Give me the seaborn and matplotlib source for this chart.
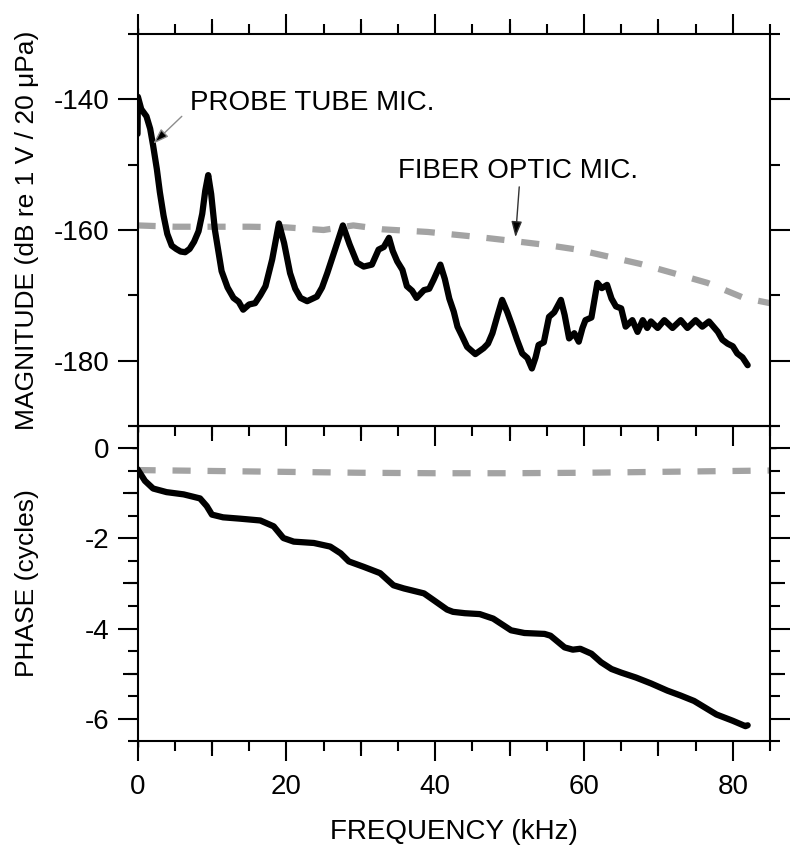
import matplotlib
matplotlib.use("Agg")
import matplotlib.pyplot as plt
from matplotlib.ticker import MultipleLocator, NullFormatter
import numpy as np
import pandas as pd
import seaborn as sns

# ---------------- data ----------------
mag_freq = [0.0, 0.05, 0.5, 1.2, 1.7, 2.1, 2.6, 3.0, 3.5, 4.0,
            4.6, 5.2, 5.8, 6.4, 7.0, 7.6, 8.2, 8.7, 9.1, 9.5,
            9.9, 10.4, 11.3, 12.1, 12.9, 13.6, 14.2, 15.0, 15.8, 16.5,
            17.2, 18.1, 19.0, 19.7, 20.5, 21.2, 21.9, 22.8, 24.1, 24.8,
            25.5, 26.6, 27.6, 28.5, 29.5, 30.4, 31.5, 32.4, 33.1, 33.8,
            34.3, 34.9, 35.6, 36.2, 36.9, 37.5, 38.5, 39.2, 39.8, 40.7,
            41.3, 41.9, 42.5, 43.0, 43.6, 44.3, 45.4, 46.5, 47.1, 47.7,
            48.4, 49.0, 49.7, 50.4, 51.0, 51.7, 52.4, 53.0, 53.5, 53.9,
            54.6, 55.3, 56.0, 56.9, 57.4, 58.0, 58.7, 59.3, 59.8, 60.2,
            61.0, 61.8, 62.4, 63.1, 63.7, 64.3, 65.0, 65.6, 66.5, 67.2,
            67.9, 68.5, 69.0, 69.9, 70.8, 71.9, 73.0, 73.9, 75.0, 75.9,
            76.8, 78.0, 78.6, 79.3, 80.0, 80.6, 81.3, 82.0]
mag_probe = [-145.3, -139.6, -141.5, -142.6, -144.5, -147.1, -150.7, -154.2, -157.8, -160.6,
             -162.4, -162.9, -163.3, -163.4, -162.9, -161.8, -160.2, -157.5, -154.0, -151.6,
             -154.5, -160.0, -166.3, -168.8, -170.4, -171.0, -172.2, -171.4, -171.2, -170.0,
             -168.6, -164.5, -159.0, -162.0, -166.6, -169.0, -170.4, -170.9, -170.2, -168.8,
             -166.6, -162.8, -159.3, -162.2, -165.0, -165.6, -165.3, -163.0, -162.6, -161.2,
             -163.2, -164.8, -166.1, -168.6, -169.3, -170.4, -169.2, -169.0, -167.6, -165.3,
             -167.5, -170.5, -172.5, -174.8, -176.2, -177.9, -179.0, -178.1, -177.4, -175.8,
             -173.0, -170.7, -172.6, -174.8, -176.8, -178.9, -179.6, -181.2, -179.5, -177.6,
             -177.2, -173.3, -172.6, -170.7, -173.0, -176.6, -175.8, -177.1, -175.0, -173.8,
             -173.4, -168.1, -168.9, -168.4, -170.5, -171.7, -172.0, -174.8, -173.8, -175.6,
             -173.8, -175.0, -174.0, -175.0, -173.8, -175.0, -173.8, -175.0, -173.8, -174.8,
             -174.0, -175.6, -176.8, -177.4, -177.8, -178.9, -179.5, -180.7]

fiber_freq = [0, 5, 10, 15, 20, 25, 29, 33, 39, 42.5,
              46, 50.6, 55, 59.1, 63, 67.6, 72, 76.6, 81.5, 85]
mag_fiber = [-159.3, -159.5, -159.5, -159.5, -159.6, -160.0, -159.3, -159.9, -160.3, -160.7,
             -161.1, -161.7, -162.3, -163.0, -164.0, -165.2, -166.6, -168.1, -170.4, -171.2]

phase_freq = [0.0, 1.0, 2.1, 3.9, 6.2, 8.4, 9.3, 10.0, 11.5, 13.8,
              16.5, 18.3, 19.6, 21.0, 23.7, 25.9, 27.3, 28.4, 30.4, 32.6,
              34.4, 35.8, 38.5, 39.8, 41.6, 42.4, 44.0, 46.0, 47.8, 50.2,
              52.0, 54.7, 55.5, 57.4, 58.5, 59.5, 61.0, 62.3, 63.7, 65.0,
              67.0, 69.0, 71.2, 73.0, 74.8, 76.3, 77.8, 80.0, 81.7, 82.0]
phase_probe = [-0.46, -0.72, -0.89, -0.97, -1.02, -1.11, -1.28, -1.47, -1.53, -1.56,
               -1.60, -1.73, -1.99, -2.07, -2.10, -2.18, -2.33, -2.51, -2.63, -2.77,
               -3.04, -3.11, -3.22, -3.37, -3.58, -3.63, -3.66, -3.68, -3.78, -4.04,
               -4.10, -4.12, -4.16, -4.42, -4.47, -4.45, -4.56, -4.75, -4.90, -4.98,
               -5.09, -5.22, -5.38, -5.49, -5.61, -5.76, -5.91, -6.05, -6.17, -6.15]

phase_fiber_freq = [0, 10, 20, 30, 40, 50, 60, 70, 80, 85]
phase_fiber = [-0.48, -0.50, -0.52, -0.54, -0.55, -0.55, -0.54, -0.52, -0.50, -0.49]

x_tick_labels = ["0", "20", "40", "60", "80"]
mag_tick_labels = ["-180", "-160", "-140"]
phase_tick_labels = ["-6", "-4", "-2", "0"]

# ---------------- style ----------------
sns.set_theme(style="ticks")
plt.rcParams["font.family"] = ["Liberation Sans", "DejaVu Sans"]
plt.rcParams.update({
    "text.color": "black", "axes.labelcolor": "black",
    "xtick.color": "black", "ytick.color": "black",
    "axes.edgecolor": "black", "axes.linewidth": 1.5,
})

fig = plt.figure(figsize=(8, 8.55), dpi=100)
fig.patch.set_facecolor("white")
ax1 = fig.add_axes([0.1719, 0.5018, 0.7906, 0.4584])
ax2 = fig.add_axes([0.1719, 0.1333, 0.7906, 0.3685])
for ax in (ax1, ax2):
    ax.set_facecolor("none")

LW = 4.5
GRAY = "#a3a3a3"

def dashed(ax):
    ln = ax.lines[-1]
    ln.set_dashes([2.9, 2.7])
    ln.set_dash_capstyle("butt")

# magnitude panel
sns.lineplot(x=fiber_freq, y=mag_fiber, ax=ax1, color=GRAY, linewidth=LW,
             sort=False, estimator=None)
dashed(ax1)
sns.lineplot(x=mag_freq, y=mag_probe, ax=ax1, color="black", linewidth=LW,
             sort=False, estimator=None, solid_capstyle="round", solid_joinstyle="round")

# phase panel
sns.lineplot(x=phase_fiber_freq, y=phase_fiber, ax=ax2, color=GRAY, linewidth=LW,
             sort=False, estimator=None)
dashed(ax2)
sns.lineplot(x=phase_freq, y=phase_probe, ax=ax2, color="black", linewidth=LW,
             sort=False, estimator=None, solid_capstyle="round", solid_joinstyle="round")

for ln in ax1.lines + ax2.lines:
    ln.set_linewidth(LW)

ax1.set_xlim(0, 85)
ax2.set_xlim(0, 85)
ax1.set_ylim(-190, -130)
ax2.set_ylim(-6.5, 0.5)

LONG, MED, SHORT = 14.4, 10.8, 7.2
TW = 1.5

# x ticks
for ax in (ax1, ax2):
    ax.xaxis.set_major_locator(MultipleLocator(20))
    ax.xaxis.set_minor_locator(MultipleLocator(5))
ax2.set_xticks([0, 20, 40, 60, 80], x_tick_labels)
ax1.xaxis.set_major_formatter(NullFormatter())
ax1.tick_params(axis="x", which="both", direction="out", top=True, bottom=True,
                labelbottom=False, labeltop=False, width=TW)
ax2.tick_params(axis="x", which="both", direction="out", top=False, bottom=True,
                labelbottom=True, width=TW, labelsize=20, pad=9)

# y ticks
ax1.set_yticks([-180, -160, -140], mag_tick_labels)
ax1.yaxis.set_minor_locator(MultipleLocator(10))
ax2.set_yticks([-6, -4, -2, 0], phase_tick_labels)
ax2.yaxis.set_minor_locator(MultipleLocator(0.5))
for ax in (ax1, ax2):
    ax.tick_params(axis="y", which="both", direction="out", left=True, right=True,
                   labelleft=True, labelright=False, width=TW, labelsize=20, pad=6)
    ax.tick_params(which="major", length=LONG)
    ax.tick_params(which="minor", length=SHORT)
    for s in ax.spines.values():
        s.set_visible(True)
        s.set_linewidth(1.5)
        s.set_color("black")

# medium-length ticks via secondary axes
def med_x(ax, loc, ticks):
    sec = ax.secondary_xaxis(loc)
    sec.set_xticks(ticks)
    sec.tick_params(axis="x", which="major", direction="out", length=MED, width=TW,
                    labelbottom=False, labeltop=False)
    sec.xaxis.set_minor_locator(MultipleLocator(1000))
    sec.spines[loc].set_visible(False)

def med_y(ax, loc, ticks):
    sec = ax.secondary_yaxis(loc)
    sec.set_yticks(ticks)
    sec.tick_params(axis="y", which="major", direction="out", length=MED, width=TW,
                    labelleft=False, labelright=False)
    sec.yaxis.set_minor_locator(MultipleLocator(1000))
    sec.spines[loc].set_visible(False)

med_ticks_x = [10, 30, 50, 70]
med_x(ax1, "top", med_ticks_x)
med_x(ax1, "bottom", med_ticks_x)
med_x(ax2, "bottom", med_ticks_x)
med_ticks_phase = [-5, -3, -1]
med_y(ax2, "left", med_ticks_phase)
med_y(ax2, "right", med_ticks_phase)

# labels
ax1.set_ylabel("MAGNITUDE (dB re 1 V / 20 \u03bcPa)", fontsize=19, va="center")
ax1.yaxis.set_label_coords(-0.175, 0.5)
ax2.set_ylabel("PHASE (cycles)", fontsize=19, va="center")
ax2.yaxis.set_label_coords(-0.175, 0.5)
ax2.set_xlabel("FREQUENCY (kHz)", fontsize=20, va="center")
ax2.xaxis.set_label_coords(0.5, -0.289)
ax1.set_xlabel("")

# annotations
arrow_kw = dict(arrowstyle="-|>,head_length=0.95,head_width=0.32", mutation_scale=10,
                lw=1.0, shrinkA=0, shrinkB=0)
ax1.text(7.1, -141.57, "PROBE TUBE MIC.", fontsize=20, ha="left", va="baseline")
ax1.annotate("", xy=(2.1, -146.8), xytext=(5.95, -142.6),
             arrowprops=dict(fc="black", ec="#8c8c8c", **arrow_kw))
ax1.text(35.06, -151.97, "FIBER OPTIC MIC.", fontsize=20, ha="left", va="baseline")
ax1.annotate("", xy=(50.8, -161.1), xytext=(51.3, -153.4),
             arrowprops=dict(fc="black", ec="#333333", **arrow_kw))

fig.savefig("out.png", dpi=100, facecolor="white")
